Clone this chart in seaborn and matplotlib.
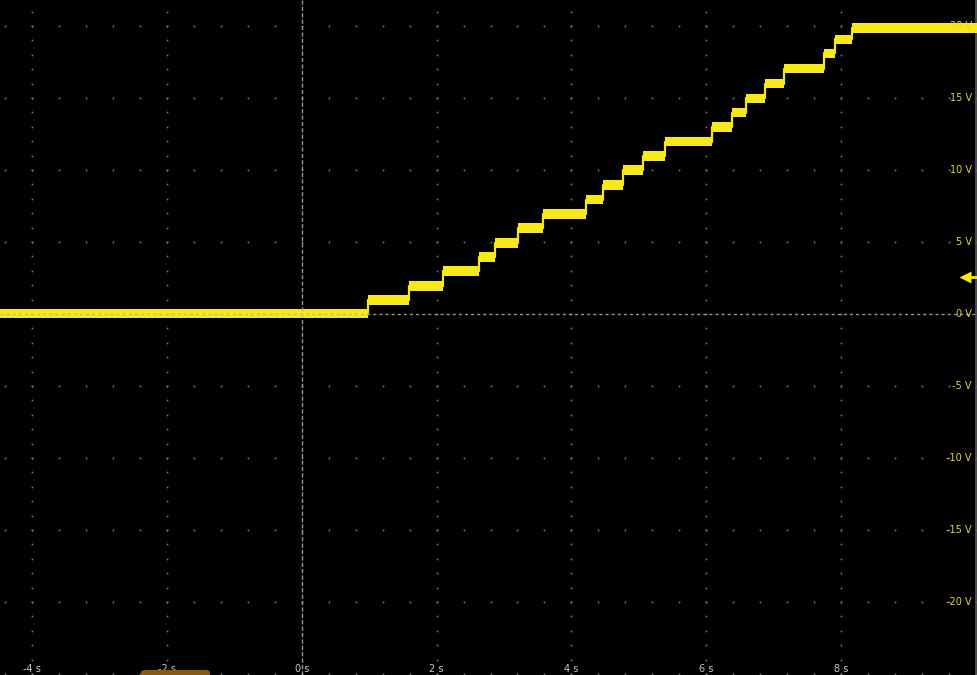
import numpy as np
import matplotlib
matplotlib.use("Agg")
import matplotlib.pyplot as plt
from matplotlib.patches import FancyBboxPatch
import seaborn as sns

# staircase (time in s, level in V)
step_times = [-4.48, 0.98, 1.59, 2.09, 2.63, 2.87, 3.21, 3.58, 4.22, 4.47, 4.77,
              5.06, 5.39, 6.08, 6.39, 6.59, 6.88, 7.16, 7.75, 7.91, 8.16, 10.02]
step_volts = [0.05, 0.97, 1.96, 3.0, 3.96, 4.95, 5.96, 6.94, 7.95, 8.96, 10.0,
              10.97, 11.97, 13.0, 13.98, 14.98, 16.0, 17.05, 18.1, 19.07, 19.85, 19.85]
noise_band = 0.33  # half height of the noisy trace, V
trigger_level = 2.6

x_ticks = [-4, -2, 0, 2, 4, 6, 8]
x_labels = ["-4 s", "-2 s", "0 s", "2 s", "4 s", "6 s", "8 s"]
y_ticks = [20, 15, 10, 5, 0, -5, -10, -15, -20]
y_labels = ["20 V", "15 V", "10 V", "5 V", "0 V", "-5 V", "-10 V", "-15 V", "-20 V"]

XMIN, XMAX = -4.48, 10.02
YMIN, YMAX = -25.07, 21.81
TRACE = "#f7e81a"
DOTS = "#7c7c7c"

sns.set_theme(style="dark", rc={"axes.facecolor": "black", "figure.facecolor": "black"})

fig = plt.figure(figsize=(9.77, 6.75), dpi=100)
ax = fig.add_axes([0, 0, 1, 1])
ax.set_xlim(XMIN, XMAX)
ax.set_ylim(YMIN, YMAX)
ax.set_xticks([])
ax.set_yticks([])
for s in ax.spines.values():
    s.set_visible(False)

# dotted graticule: dots along major lines at 1/5 division
row_x = np.arange(-4.4, XMAX, 0.4)
for yv in range(-25, 21, 5):
    if yv == 0:
        continue
    ax.plot(row_x, np.full_like(row_x, yv), ls="none", marker="s", ms=1.2,
            mec="none", mfc=DOTS, zorder=1)
col_y = np.arange(-25, 22, 1.0)
for xv in x_ticks:
    if xv == 0:
        continue
    ax.plot(np.full_like(col_y, xv), col_y, ls="none", marker="s", ms=1.2,
            mec="none", mfc=DOTS, zorder=1)

# trace: thick noisy band + thin step edges
t = np.array(step_times)
v = np.array(step_volts)
ax.fill_between(t, v - noise_band, v + noise_band, step="post", color=TRACE, lw=0, zorder=3)
sns.lineplot(x=t, y=v, drawstyle="steps-post", color=TRACE, lw=1.6, ax=ax, zorder=3)

# centre cross-hair
ax.axhline(0, color="#b0b0b0", lw=1, ls=(0, (2.2, 2.2)), alpha=0.85, zorder=4)
ax.axvline(0, color="#b0b0b0", lw=1, ls=(0, (3.0, 1.6)), alpha=0.85, zorder=4)

# right edge frame line
ax.axvline(XMAX - 0.02, color="#5a5a5a", lw=1.2, zorder=2)

# trigger level marker
ax.plot([9.9, XMAX], [trigger_level, trigger_level], color=TRACE, lw=2, zorder=5)
ax.plot([9.84], [trigger_level], marker="<", ms=9, color=TRACE, mec="none", zorder=5)

# tick labels inside the screen
for xv, lab in zip(x_ticks, x_labels):
    ax.text(xv, 6 / 675, lab, transform=ax.get_xaxis_transform(), ha="center",
            va="center", color="#c8c8c8", fontsize=7, zorder=6)
for yv, lab in zip(y_ticks, y_labels):
    ax.text(972 / 977, yv, lab, transform=ax.get_yaxis_transform(), ha="right",
            va="center", color="#e2d53a", fontsize=7, zorder=6)

# cut-off readout badge at the bottom
ax.add_patch(FancyBboxPatch((141 / 977, -0.01), 69 / 977, 0.01 + 5 / 675,
                            boxstyle="round,pad=0,rounding_size=0.004",
                            transform=ax.transAxes, fc="#8a5816", ec="none",
                            zorder=7, clip_on=False))

fig.savefig("out.png", dpi=100, facecolor="black")
